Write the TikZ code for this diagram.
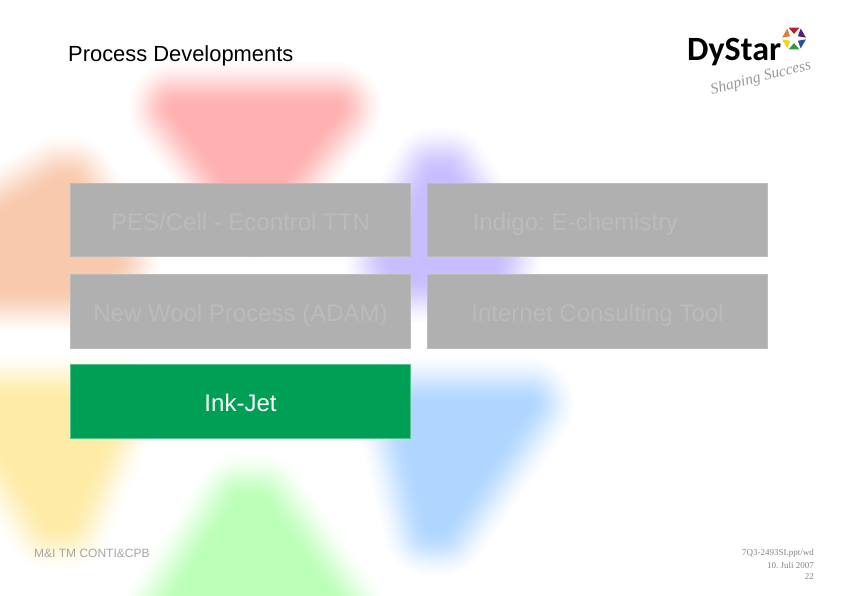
\documentclass[tikz,border=0pt]{standalone}
\usepackage{fontspec}
\setmainfont{Liberation Sans}
\newfontfamily\logofont{Carlito}
\newfontfamily\serifsmall{Liberation Serif}
\usetikzlibrary{calc}
\frenchspacing
\definecolor{boxgray}{HTML}{B0B0B0}
\definecolor{boxtext}{HTML}{BBBBBB}
\definecolor{boxgreen}{HTML}{009F56}
\definecolor{footgray}{HTML}{A6A6A6}
\definecolor{petalred}{HTML}{FFB0B0}
\definecolor{petalorange}{HTML}{F9C9AD}
\definecolor{petalpurple}{HTML}{C8BEFF}
\definecolor{petalyellow}{HTML}{FEEBA5}
\definecolor{petalblue}{HTML}{B0D6FF}
\definecolor{petalgreen}{HTML}{BCFFB8}
\tikzset{
  procbox/.style={fill=boxgray,draw=boxgray!85!white,line width=.6pt,minimum width=340pt,minimum height=73.5pt,inner sep=0pt,text=boxtext,text height=20pt,text depth=0pt,font=\fontsize{24}{26}\selectfont},
  activebox/.style={procbox,fill=boxgreen,draw=boxgreen!65!white,text=white},
  footleft/.style={inner sep=0pt,text=footgray,font=\fontsize{12}{14}\selectfont},
  footright/.style={inner sep=0pt,anchor=east,text=footgray!80!black,font=\serifsmall\fontsize{9}{10}\selectfont},
}
% soft petal: nested outlines from almost white to full colour
\newcommand{\petal}[2]{
  \foreach \stepno in {46,45,...,0}{
    \pgfmathsetmacro{\lw}{2*\stepno}
    \pgfmathsetmacro{\mixval}{100*(1-\stepno/52)*(1-\stepno/52)*(1+\stepno/26)}
    \draw[line join=round,line width=\lw pt,draw=#1!\mixval!white,fill=#1!\mixval!white] #2 -- cycle;
  }
}
\begin{document}
\begin{tikzpicture}[x=1pt,y=-1pt]
\useasboundingbox (0,0) rectangle (842,595);
\clip (0,0) rectangle (842,595);
\fill[white] (0,0) rectangle (842,595);
\petal{petalred}{(175,108) -- (335,108) -- (283,175) -- (255,212) -- (226,175)}
\petal{petalorange}{(60,182) -- (70,182) -- (114,262) -- (95,286) -- (-30,286) -- (-30,235)}
\petal{petalpurple}{(435,174) -- (445,174) -- (496,255) -- (491,276) -- (398,276) -- (391,262)}
\petal{petalyellow}{(-30,402) -- (117,402) -- (66,522) -- (50,522) -- (6,450) -- (-30,450)}
\petal{petalblue}{(400,404) -- (528,404) -- (442,529) -- (430,529)}
\petal{petalgreen}{(240,501) -- (260,501) -- (340,615) -- (168,615)}
% boxes
\node[procbox] (pes) at (240.5,220) {PES/Cell - Econtrol TTN};
\node[procbox] (indigo) at (597.5,220) {Indigo: E-chemistry\hspace*{44pt}};
\node[procbox] (wool) at (240.5,311.5) {New Wool Process (ADAM)};
\node[procbox] (internet) at (597.5,311.5) {Internet Consulting Tool};
\node[activebox] (inkjet) at (240.5,401.5) {Ink-Jet};
% title and footer
\node[right,inner sep=0pt,font=\fontsize{21.9}{24}\selectfont] (title) at (68,55.5) {Process Developments};
\node[right,footleft] (dept) at (34,553) {M\&I TM CONTI\&CPB};
\node[footright] (docref) at (814,553) {7Q3-2493SI.ppt/wd};
\node[footright] (docdate) at (814,565) {10. Juli 2007};
\node[footright] (docpage) at (814,577) {22};
% logo
\node[right,inner sep=0pt,font=\logofont\bfseries\fontsize{34}{36}\selectfont] (dystar) at (687,52) {DyStar};
\node[inner sep=0pt,rotate=14,text=gray!80,font=\serifsmall\itshape\fontsize{15.5}{16}\selectfont] (slogan) at (761,78) {Shaping Success};
\coordinate (star) at (794,38.5);
\foreach \a/\c in {-90/B5202E,-30/5B1A80,30/2B4FA0,90/2E9E3E,150/F7D417,210/D9803C}{
  \definecolor{wedge}{HTML}{\c}
  \fill[wedge] ($(star)+(\a-26:12)$) -- ($(star)+(\a+26:12)$) -- ($(star)+(\a:4.5)$) -- cycle;
}
\end{tikzpicture}
\end{document}
